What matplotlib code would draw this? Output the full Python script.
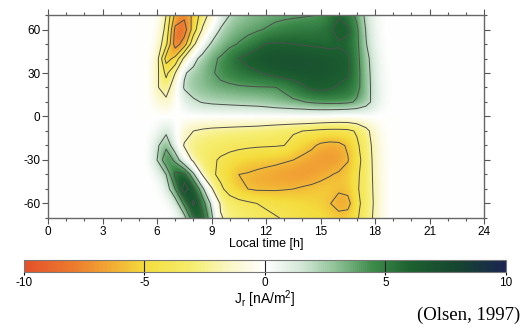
import numpy as np
import matplotlib
matplotlib.use("Agg")
import matplotlib.pyplot as plt
from matplotlib.colors import LinearSegmentedColormap
from matplotlib.ticker import MultipleLocator

plt.rcParams['font.family'] = ['Liberation Sans', 'DejaVu Sans']
plt.rcParams['mathtext.fontset'] = 'custom'
plt.rcParams['mathtext.rm'] = 'Liberation Sans'
plt.rcParams['mathtext.it'] = 'Liberation Sans'
plt.rcParams['axes.unicode_minus'] = False

# local time columns (h) where the current is non-zero, 0.5 h steps
lt_cols = [5.5, 6, 6.5, 7, 7.5, 8, 8.5, 9, 9.5, 10, 10.5, 11, 11.5, 12, 12.5,
           13, 13.5, 14, 14.5, 15, 15.5, 16, 16.5, 17, 17.5, 18, 18.5]
lat_rows = [70, 60, 50, 40, 30, 20, 10, 0, -10, -20, -30, -40, -50, -60, -70]

# Jr [nA/m^2], one list per latitude
jr_p70 = [0, 0, -2, -6.5, -7.5, -5.5, -3, -1.2, 0.5, 2, 2.6, 3.0, 3.2, 3.4, 3.5,
          3.6, 3.7, 3.8, 3.9, 4.1, 5.0, 5.8, 5.0, 3.6, 1.5, 0.4, 0]
jr_p60 = [0, -0.3, -2.5, -8.5, -9, -5, -1.8, 0, 2.2, 3.0, 3.4, 3.6, 3.8, 4.1, 4.5,
          4.8, 5.0, 5.1, 5.2, 5.3, 5.7, 6.7, 6.3, 4.3, 1.9, 0.5, 0]
jr_p50 = [0, -0.5, -3.5, -9, -7, -2.5, 0.2, 2.3, 3.0, 3.6, 4.1, 4.6, 5.3, 6.05, 6.1,
          6.1, 6.0, 5.9, 5.8, 5.7, 5.6, 5.8, 5.6, 4.4, 2.1, 0.6, 0]
jr_p40 = [0, -1.2, -6.8, -5.5, -1.5, 1.2, 2.8, 3.6, 4.2, 5.2, 6.0, 6.6, 7.0, 7.2, 7.3,
          7.3, 7.3, 7.2, 7.1, 7.0, 6.8, 6.6, 6.2, 4.5, 2.6, 0.9, 0.1]
jr_p30 = [0, -1.5, -4.5, -2, 1.8, 2.6, 3.1, 3.8, 4.4, 4.8, 5.2, 5.5, 5.8, 6.2, 6.6,
          6.9, 7.0, 7.0, 7.0, 6.9, 6.8, 6.6, 6.2, 4.6, 2.8, 1.0, 0.2]
jr_p20 = [0, -1.8, -3, -0.6, 2.2, 2.8, 3.1, 3.4, 3.6, 3.7, 3.8, 3.85, 3.9, 3.9, 3.95,
          4.3, 5.0, 5.7, 6.3, 6.4, 6.2, 5.8, 5.5, 4.5, 2.9, 1.1, 0.2]
jr_p10 = [0, -0.8, -1.5, -0.3, 0.8, 1.7, 2.1, 2.3, 2.4, 2.5, 2.6, 2.7, 2.8, 3.0, 3.3,
          3.5, 3.7, 3.9, 4.2, 4.4, 4.5, 4.5, 4.3, 3.8, 2.8, 1.2, 0.2]
jr_eq = [0, 0, 0, 0, 0, 0, 0, 0, 0, 0, 0, 0, 0, 0, 0,
         0, 0, 0, 0, -0.1, -0.2, -0.3, -0.3, -0.2, 0, 0, 0]
jr_m10 = [0, 0.3, 1.5, 0.3, -1.2, -2.0, -2.3, -2.5, -2.6, -2.7, -2.8, -2.9, -3.0, -3.2, -3.4,
          -3.6, -3.8, -4.0, -4.2, -4.4, -4.5, -4.5, -4.4, -3.8, -2.6, -1.0, -0.2]
jr_m20 = [0, 1.6, 3.5, 0.5, -2.2, -2.7, -3.0, -3.2, -3.4, -3.5, -3.6, -3.7, -3.8, -3.85, -3.9,
          -4.0, -4.6, -5.2, -5.7, -6.3, -6.5, -6.4, -5.8, -4.3, -3.0, -1.3, -0.3]
jr_m30 = [0, 2.0, 5.5, 3.5, 0, -2.5, -3.2, -3.7, -4.2, -4.6, -5.0, -5.3, -5.4, -5.5, -5.6,
          -5.8, -6.0, -6.4, -6.7, -6.9, -7.0, -6.8, -6.1, -4.6, -3.2, -1.4, -0.3]
jr_m40 = [0, 0.3, 2.0, 6.5, 6.5, 2.5, -2.2, -3.6, -4.5, -5.3, -6.0, -6.1, -6.3, -6.5, -6.7,
          -6.9, -7.0, -7.0, -6.9, -6.5, -6.1, -5.8, -5.4, -4.3, -3.2, -1.5, -0.3]
jr_m50 = [0, 0, 0.8, 4, 9.2, 6.5, 2.6, -1.8, -3.6, -4.8, -5.6, -6.0, -6.2, -6.2, -6.2,
          -6.1, -6.0, -5.8, -5.6, -5.4, -5.4, -5.7, -5.5, -4.2, -3.2, -1.6, -0.3]
jr_m60 = [0, 0, 0, 0.8, 4.5, 8.5, 5, 1.5, -2.3, -3.0, -3.4, -3.7, -4.0, -4.2, -4.4,
          -4.6, -4.8, -5.0, -5.2, -5.4, -5.9, -6.8, -6.6, -4.5, -3.2, -1.7, -0.3]
jr_m70 = [0, 0, 0, 0, 1.2, 5.5, 6.5, 2.5, -1.8, -2.6, -3.0, -3.3, -3.5, -3.7, -3.9,
          -4.1, -4.3, -4.5, -4.6, -4.8, -5.0, -5.3, -5.2, -4.2, -3.0, -1.6, -0.3]

contour_levels = [-8, -6, -4, -2, 2, 4, 6, 8]
cbar_ticks = [-10, -5, 0, 5, 10]

block = np.array([jr_p70, jr_p60, jr_p50, jr_p40, jr_p30, jr_p20, jr_p10, jr_eq,
                  jr_m10, jr_m20, jr_m30, jr_m40, jr_m50, jr_m60, jr_m70])

# rest of the day is zero
lt_full = np.arange(0, 24.01, 0.5)
field = np.zeros((len(lat_rows), len(lt_full)))
i0 = int(np.searchsorted(lt_full, lt_cols[0]))
field[:, i0:i0 + len(lt_cols)] = block

cmap = LinearSegmentedColormap.from_list('jr', [
    (0.00, '#e4502a'), (0.10, '#ec7a2e'), (0.175, '#f2a834'), (0.25, '#f4dc3c'),
    (0.35, '#f6ee70'), (0.425, '#faf6c4'), (0.50, '#ffffff'), (0.575, '#d4e8d8'),
    (0.65, '#8cc094'), (0.725, '#3d8a4a'), (0.80, '#1d6230'), (0.90, '#16452f'),
    (1.00, '#1a2550')])

fig = plt.figure(figsize=(5.26, 3.29), dpi=100)
ax = fig.add_axes([0.0913, 0.3374, 0.829, 0.617])

im = ax.imshow(field, cmap=cmap, vmin=-10, vmax=10, aspect='auto',
               interpolation='bicubic', origin='upper',
               extent=[-0.25, 24.25, -75, 75])
ax.contour(lt_full, lat_rows[::-1], field[::-1], levels=contour_levels,
           colors='#4e4e4e', linewidths=0.7, linestyles='solid')

ax.set_xlim(0, 24)
ax.set_ylim(-70, 70)
ax.xaxis.set_major_locator(MultipleLocator(3))
ax.xaxis.set_minor_locator(MultipleLocator(1))
ax.yaxis.set_major_locator(MultipleLocator(30))
ax.yaxis.set_minor_locator(MultipleLocator(10))
ax.tick_params(which='both', direction='out', top=True, right=True,
               color='#555555', width=0.8, labelsize=8.5, pad=1.5)
ax.tick_params(which='major', length=4)
ax.tick_params(which='minor', length=2.5)
for s in ax.spines.values():
    s.set_color('#666666')
    s.set_linewidth(1.0)
ax.set_xlabel('Local time [h]', fontsize=9, labelpad=0)

cax = fig.add_axes([0.0456, 0.1733, 0.916, 0.0365])
cb = fig.colorbar(im, cax=cax, orientation='horizontal', ticks=cbar_ticks)
cb.outline.set_edgecolor('#777777')
cb.outline.set_linewidth(0.8)
for v in cbar_ticks[1:-1]:
    cax.axvline(v, color='#222222', lw=0.8)
cax.tick_params(direction='out', length=2.5, width=0.8, labelsize=8.5, pad=1)
cb.set_label(r'J$_\mathregular{r}$ [nA/m$^\mathregular{2}$]', fontsize=10, labelpad=0)

fig.text(0.989, 0.042, '(Olsen, 1997)', family='Liberation Serif', fontsize=13.5,
         ha='right', va='center')

fig.savefig('out.png', dpi=100)
